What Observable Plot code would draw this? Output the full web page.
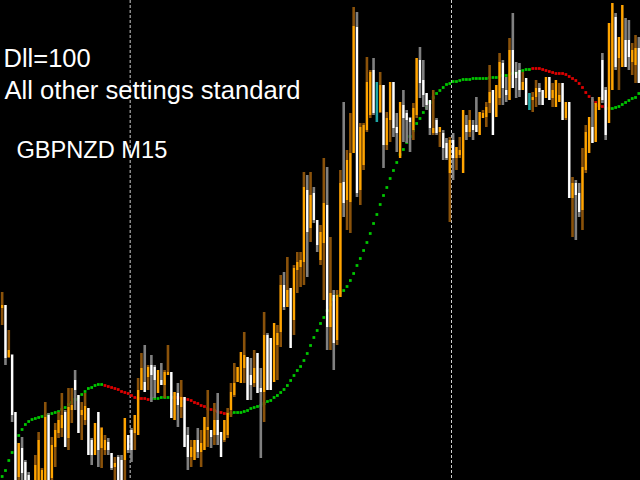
<!DOCTYPE html>
<html><head><meta charset="utf-8">
<script src="https://cdn.jsdelivr.net/npm/d3@7"></script>
<script src="https://cdn.jsdelivr.net/npm/@observablehq/plot@0.6"></script>
<style>html,body{margin:0;padding:0;background:#000;overflow:hidden}</style>
</head><body><div id="chart"></div>
<script>
// Price values in points above the chart's lower edge (GBPNZD M15)
const open = [172,175,123,125,68,3,32,18,5,-20,
-10,0,-10,-5,65,2,33,47,52,68,
42,70,100,85,65,60,72,40,25,68,
32,30,38,27,13,23,20,20,45,50,
47,45,90,98,103,115,113,87,100,95,
105,108,60,87,73,83,45,23,20,40,
28,30,50,50,45,60,48,40,45,70,
85,98,97,112,123,105,97,127,92,88,
145,142,98,135,148,195,173,192,160,210,
213,218,290,252,287,260,220,237,275,153,
185,140,183,298,280,278,327,453,290,315,
350,365,410,398,368,395,335,360,398,353,
322,375,367,362,350,365,420,400,387,380,
347,360,348,347,337,307,340,322,325,307,
355,348,355,355,345,362,363,377,390,363,
382,417,390,380,430,408,410,390,402,387,
380,383,392,390,382,403,382,373,378,397,
362,378,282,297,287,270,310,327,353,338,
370,420,390,357,390,463,422,413,440,440,
418,415,432];
const high = [188,175,150,126,68,37,43,20,8,0,
25,48,12,78,67,43,57,68,87,70,
92,92,110,85,78,87,72,42,57,68,
53,45,42,27,23,25,25,62,45,52,
65,102,127,135,115,125,115,110,117,110,
135,108,88,97,100,83,53,40,40,52,
50,63,90,50,77,87,48,60,72,97,
117,113,128,148,123,122,130,127,112,168,
147,142,157,155,205,208,223,192,215,228,
228,308,305,308,293,260,255,322,313,243,
190,190,310,378,330,367,473,468,357,357,
423,410,422,398,408,395,368,398,398,367,
378,390,370,363,377,422,433,420,387,380,
390,362,353,350,342,343,347,333,343,370,
365,370,360,383,368,370,378,415,390,395,
427,420,403,442,467,418,417,408,402,387,
388,400,397,390,403,403,397,400,397,397,
378,378,303,300,297,332,355,363,383,377,
383,427,393,457,477,467,443,475,462,460,
437,445,443];
const low = [155,115,122,58,-10,-10,-10,-15,-20,-30,
-20,-10,-15,-10,-10,0,13,42,43,33,
30,57,70,47,40,55,25,15,25,13,
12,25,25,10,-5,-10,-10,0,27,18,
30,45,90,88,90,78,82,87,95,82,
105,62,60,53,62,33,10,13,20,22,
13,30,33,32,35,35,23,38,42,63,
83,98,97,97,80,80,93,87,22,58,
90,90,98,100,133,170,173,132,145,187,
193,195,203,238,257,228,215,180,130,130,
110,135,183,263,250,247,327,283,275,310,
348,362,365,358,367,312,330,338,343,328,
322,338,337,328,340,362,382,373,370,345,
345,345,333,320,320,258,300,310,322,307,
340,343,340,348,345,362,353,367,345,363,
375,375,378,380,392,382,383,390,375,370,
368,373,375,375,382,380,373,373,378,360,
360,282,243,240,263,250,307,327,337,338,
370,377,340,357,390,410,390,413,413,410,
405,397,397];
const close = [175,122,130,65,-5,37,7,-5,-15,-5,
15,40,10,63,-5,35,50,60,65,33,
73,75,90,47,70,74,25,25,57,30,
52,40,30,12,17,-5,-5,62,30,30,
65,90,112,88,113,105,100,110,95,108,
108,62,88,75,83,33,23,33,40,28,
37,63,53,43,60,45,23,60,67,88,
97,113,128,125,80,95,112,87,88,145,
90,90,157,147,195,173,190,132,212,218,
220,293,248,285,260,235,248,277,153,187,
137,185,297,277,320,327,454,287,353,355,
398,408,367,358,395,335,362,398,352,347,
378,362,360,358,372,422,397,385,375,352,
352,347,353,332,322,340,322,333,330,370,
348,360,350,348,368,367,373,388,345,395,
418,392,385,430,392,402,390,398,375,370,
383,392,388,375,403,380,390,400,385,360,
378,282,297,285,268,313,348,363,337,377,
383,380,345,457,477,413,443,475,413,423,
430,432,397];
const tealBars = [113, 159];
const indicator = [4,10,20,28,38,45,51,56,59,61,
62,63,64,65,66,67,68,69,71,73,
76,78,81,83,86,89,92,93,95,96,
96,95,94,93,92,91,89,88,87,85,
83,82,82,82,81,82,82,82,83,83,
83,83,83,83,82,82,81,80,78,77,
75,74,72,71,70,69,68,67,67,67,
68,68,68,69,70,72,73,74,75,77,
79,80,83,85,88,91,95,100,105,110,
114,120,127,135,143,150,157,163,170,176,
181,185,188,190,194,200,207,215,222,230,
238,247,257,266,276,285,293,302,310,318,
326,331,338,344,350,357,362,368,373,378,
383,387,390,393,396,397,399,399,400,401,
401,401,402,402,402,402,402,403,403,403,
404,405,405,406,407,408,409,410,411,411,
412,412,412,411,410,409,408,407,407,407,
406,404,402,400,397,393,388,384,380,378,
375,374,372,372,372,373,374,376,378,380,
382,383,387];
const trendSegments = [
  {from: 0, to: 30, dir: "up"},
  {from: 31, to: 44, dir: "down"},
  {from: 45, to: 51, dir: "up"},
  {from: 52, to: 68, dir: "down"},
  {from: 69, to: 159, dir: "up"},
  {from: 160, to: 182, dir: "down"},
  {from: 183, to: 192, dir: "up"}
];
const separators = [38.6, 135.5];
const noteLines = ["Dll=100", "All other settings standard"];
const symbolLabel = "GBPNZD M15";

const candles = open.map((o, i) => ({
  i, open: o, high: high[i], low: low[i], close: close[i],
  kind: tealBars.includes(i) ? "teal" : (close[i] >= o ? "up" : "down")
}));
const dirAt = i => trendSegments.find(s => i >= s.from && i <= s.to).dir;
const ind = indicator.map((v, i) => ({i, v, dir: dirAt(i)}));

const wickColor = {up: "#8a520a", down: "#808080", teal: "#0e6e6e"};
const bodyColor = {up: "#ffa500", down: "#ffffff", teal: "#1fa5a5"};
const trendColor = {up: "#00c800", down: "#e00000"};

const font = "'Liberation Sans', Arial, sans-serif";

const chart = Plot.plot({
  width: 640, height: 480, margin: 0,
  style: {background: "#000", overflow: "hidden"},
  x: {domain: [-0.5, open.length - 0.5], axis: null},
  y: {domain: [0, 480], axis: null},
  color: {type: "identity"},
  marks: [
    Plot.ruleX(separators, {x: d => d, stroke: "#d0d0d0", strokeWidth: 1, strokeDasharray: "3,2"}),
    Plot.dot(ind, {x: "i", y: "v", symbol: "square", r: 1.55, fill: d => trendColor[d.dir], stroke: null, clip: true}),
    Plot.ruleX(candles, {x: "i", y1: "low", y2: "high", stroke: d => wickColor[d.kind], strokeWidth: 2.6, clip: true}),
    Plot.ruleX(candles, {x: "i", y1: "open", y2: "close", stroke: d => bodyColor[d.kind], strokeWidth: 2.2, clip: true}),
    Plot.text([noteLines[0]], {frameAnchor: "top-left", textAnchor: "start", lineAnchor: "top", dx: 3, dy: 48, fill: "#fff", fontSize: 25.5, fontFamily: font}),
    Plot.text([noteLines[1]], {frameAnchor: "top-left", textAnchor: "start", lineAnchor: "top", dx: 4, dy: 80, fill: "#fff", fontSize: 25.6, fontFamily: font}),
    Plot.text([symbolLabel], {frameAnchor: "top-left", textAnchor: "start", lineAnchor: "top", dx: 16, dy: 141, fill: "#fff", fontSize: 23.6, fontFamily: font})
  ]
});
document.getElementById("chart").appendChild(chart);
</script>
</body></html>
